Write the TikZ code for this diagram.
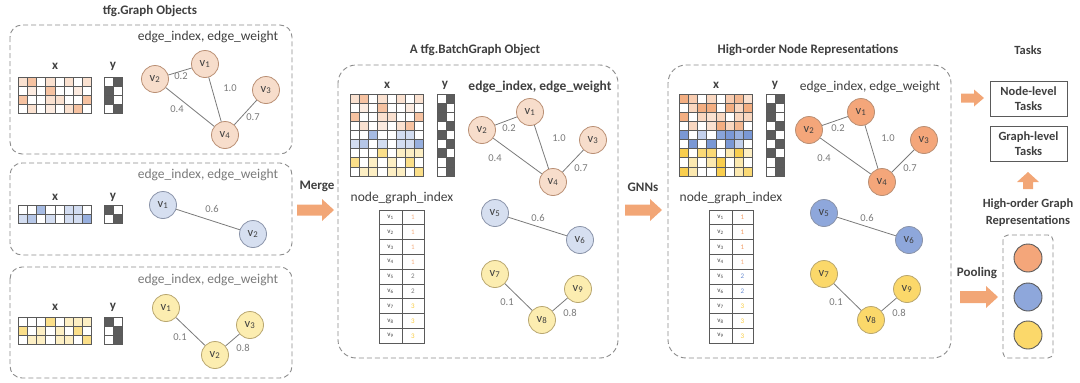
\documentclass[tikz,border=0pt]{standalone}
\usepackage{fontspec}
\setmainfont{Carlito}
\definecolor{txt}{HTML}{3F3F3F}
\definecolor{lgray}{HTML}{7A7A7A}
\definecolor{dashc}{HTML}{8C8C8C}
\definecolor{gridc}{HTML}{5A5A5A}
\definecolor{OR}{HTML}{F09A62}
\definecolor{BL}{HTML}{6B8DD0}
\definecolor{YE}{HTML}{F8C93A}
\definecolor{ygr}{HTML}{4A4A4A}
\definecolor{arr}{HTML}{F2A676}
\definecolor{lOR}{HTML}{F7DDCB}
\definecolor{lBL}{HTML}{D6DFF0}
\definecolor{lYE}{HTML}{FCEDB0}
\definecolor{dOR}{HTML}{F4A67A}
\definecolor{dBL}{HTML}{8EA7DB}
\definecolor{dYE}{HTML}{FBD86A}
\definecolor{bOR}{HTML}{B98F74}
\definecolor{bBL}{HTML}{8A93A8}
\definecolor{bYE}{HTML}{B8A670}
\newcommand\fsz[1]{\fontsize{#1}{#1}\selectfont}
\newcommand\mrow[5]{\foreach \v [count=\i from 0] in {#5}{\filldraw[draw=gridc,line width=0.6,fill=#4!\v0] ({#1+\i*#3},#2) rectangle ++(#3,9.1);}}
% horizontal block arrow: x1, x2, y, shaft half width, head half width, head length
\newcommand\harrow[6]{\fill[arr] (#1,{#3-#4}) -- ({#2-#6},{#3-#4}) -- ({#2-#6},{#3-#5}) -- (#2,#3) -- ({#2-#6},{#3+#5}) -- ({#2-#6},{#3+#4}) -- (#1,{#3+#4}) -- cycle;}
% vertical (upward) block arrow: x, y bottom, y top, shaft half, head half, head length
\newcommand\varrow[6]{\fill[arr] ({#1-#4},#2) -- ({#1-#4},{#3+#6}) -- ({#1-#5},{#3+#6}) -- (#1,#3) -- ({#1+#5},{#3+#6}) -- ({#1+#4},{#3+#6}) -- ({#1+#4},#2) -- cycle;}
\tikzset{
  dbox/.style={draw=dashc,line width=0.9,dash pattern=on 5pt off 3pt,rounded corners=#1},
  title/.style={font=\fsz{13}\bfseries,text=txt,inner sep=0pt},
  lab/.style={font=\fsz{13.5},text=txt,inner sep=0pt},
  llab/.style={font=\fsz{13.5},text=lgray,inner sep=0pt},
  mlab/.style={font=\fsz{13}\bfseries,text=txt,inner sep=0pt},
  elab/.style={font=\fsz{10.5},text=lgray,inner sep=0pt},
  gn/.style={circle,minimum size=27pt,inner sep=0pt,line width=0.8,font=\fsz{12.5},text=txt},
  gO/.style={gn,fill=lOR,draw=bOR},
  gB/.style={gn,fill=lBL,draw=bBL},
  gY/.style={gn,fill=lYE,draw=bYE},
  GO/.style={gn,fill=dOR,draw=bOR},
  GB/.style={gn,fill=dBL,draw=bBL},
  GY/.style={gn,fill=dYE,draw=bYE},
  edge/.style={draw=lgray,line width=0.8},
  tabtxt/.style={font=\fsz{7},text=txt,inner sep=0pt},
  taskbox/.style={draw=gridc,line width=0.9,minimum width=77pt,minimum height=35pt,align=center,font=\fontsize{12.5}{15}\selectfont\bfseries,text=txt,inner sep=0pt},
  pc/.style={circle,minimum size=28pt,inner sep=0pt,draw=gridc,line width=0.9}
}
\begin{document}
\begin{tikzpicture}[x=1pt,y=-1pt]
\useasboundingbox (0,0) rectangle (1080,383);
% ---------- left panels ----------
\node[title] (t1) at (150,11) {tfg.Graph Objects};
\draw[dbox=12] (10,25) rectangle (292,154);
\draw[dbox=12] (10,163) rectangle (292,255);
\draw[dbox=12] (10,267) rectangle (292,378);
% box 1
\node[lab] (e1) at (208,37) {edge\_index, edge\_weight};
\node[mlab] (x1) at (55,66) {x};
\node[mlab] (y1) at (113,66) {y};
\mrow{18}{77}{9.2}{OR}{3,6,0,3,0,3,0,3}
\mrow{18}{86.1}{9.2}{OR}{0,2,0,6,0,0,2,0}
\mrow{18}{95.2}{9.2}{OR}{6,0,0,3,3,0,0,6}
\mrow{18}{104.3}{9.2}{OR}{0,3,0,2,0,3,6,0}
\mrow{104}{77}{9}{ygr}{0,9}
\mrow{104}{86.1}{9}{ygr}{9,0}
\mrow{104}{95.2}{9}{ygr}{9,0}
\mrow{104}{104.3}{9}{ygr}{0,9}
\node[gO] (a1) at (205,64) {v\textsubscript{1}};
\node[gO] (a2) at (155,79) {v\textsubscript{2}};
\node[gO] (a3) at (266,90) {v\textsubscript{3}};
\node[gO] (a4) at (225,135) {v\textsubscript{4}};
\draw[edge] (a1) -- (a2);
\draw[edge] (a1) -- (a4);
\draw[edge] (a2) -- (a4);
\draw[edge] (a3) -- (a4);
\node[elab] (w12) at (181,76) {0.2};
\node[elab] (w14) at (230,88) {1.0};
\node[elab] (w24) at (177,109) {0.4};
\node[elab] (w34) at (253,117) {0.7};
% box 2
\node[llab] (e2) at (208,175) {edge\_index, edge\_weight};
\node[mlab] (x2) at (55,197) {x};
\node[mlab] (y2) at (113,197) {y};
\mrow{18}{205}{9.2}{BL}{0,0,6,0,0,3,3,0}
\mrow{18}{214.1}{9.2}{BL}{3,5,0,3,0,3,3,7}
\mrow{104}{205}{9}{ygr}{9,0}
\mrow{104}{214.1}{9}{ygr}{0,9}
\node[gB] (b1) at (163,205) {v\textsubscript{1}};
\node[gB] (b2) at (253,234) {v\textsubscript{2}};
\draw[edge] (b1) -- (b2);
\node[elab] (w56) at (212,209) {0.6};
% box 3
\node[llab] (e3) at (208,280) {edge\_index, edge\_weight};
\node[mlab] (x3) at (55,307) {x};
\node[mlab] (y3) at (113,307) {y};
\mrow{18}{317}{9.2}{YE}{0,0,0,6,0,3,3,3}
\mrow{18}{326.1}{9.2}{YE}{6,0,3,0,3,0,6,0}
\mrow{18}{335.2}{9.2}{YE}{0,3,3,0,3,3,0,6}
\mrow{104}{317}{9}{ygr}{9,0}
\mrow{104}{326.1}{9}{ygr}{0,9}
\mrow{104}{335.2}{9}{ygr}{0,9}
\node[gY] (c1) at (166,308) {v\textsubscript{1}};
\node[gY] (c2) at (215,355) {v\textsubscript{2}};
\node[gY] (c3) at (250,325) {v\textsubscript{3}};
\draw[edge] (c1) -- (c2);
\draw[edge] (c3) -- (c2);
\node[elab] (w78) at (180,337) {0.1};
\node[elab] (w89) at (243,348) {0.8};
% ---------- merge arrow ----------
\node[mlab] (merge) at (317,186) {Merge};
\harrow{297}{334}{210}{5.5}{11}{12}
% ---------- middle panel ----------
\node[title] (t2) at (475,50) {A tfg.BatchGraph Object};
\draw[dbox=18] (338,65) rectangle (618,358);
\node[mlab] (x4) at (387,85) {x};
\node[mlab] (y4) at (445,85) {y};
\node[lab,font=\fsz{13.5}\bfseries] (e4) at (540,87) {edge\_index, edge\_weight};
\mrow{350}{94}{9.2}{OR}{3,6,0,3,0,3,0,3}
\mrow{350}{103.1}{9.2}{OR}{0,2,0,6,0,0,2,0}
\mrow{350}{112.2}{9.2}{OR}{6,0,0,3,3,0,0,6}
\mrow{350}{121.3}{9.2}{OR}{0,3,0,2,0,3,6,0}
\mrow{350}{130.4}{9.2}{BL}{0,0,6,0,0,3,3,0}
\mrow{350}{139.5}{9.2}{BL}{3,5,0,3,0,3,3,7}
\mrow{350}{148.6}{9.2}{YE}{0,0,0,6,0,3,3,3}
\mrow{350}{157.7}{9.2}{YE}{6,0,3,0,3,0,6,0}
\mrow{350}{166.8}{9.2}{YE}{0,3,3,0,3,3,0,6}
\mrow{437}{94}{8.8}{ygr}{0,9}
\mrow{437}{103.1}{8.8}{ygr}{9,0}
\mrow{437}{112.2}{8.8}{ygr}{9,0}
\mrow{437}{121.3}{8.8}{ygr}{0,9}
\mrow{437}{130.4}{8.8}{ygr}{9,0}
\mrow{437}{139.5}{8.8}{ygr}{0,9}
\mrow{437}{148.6}{8.8}{ygr}{9,0}
\mrow{437}{157.7}{8.8}{ygr}{0,9}
\mrow{437}{166.8}{8.8}{ygr}{0,9}
\node[gO] (m1) at (530,112) {v\textsubscript{1}};
\node[gO] (m2) at (482,130) {v\textsubscript{2}};
\node[gO] (m3) at (593,140) {v\textsubscript{3}};
\node[gO] (m4) at (553,182) {v\textsubscript{4}};
\node[gB] (m5) at (495,213) {v\textsubscript{5}};
\node[gB] (m6) at (580,240) {v\textsubscript{6}};
\node[gY] (m7) at (495,274) {v\textsubscript{7}};
\node[gY] (m8) at (542,320) {v\textsubscript{8}};
\node[gY] (m9) at (578,289) {v\textsubscript{9}};
\draw[edge] (m1) -- (m2);
\draw[edge] (m1) -- (m4);
\draw[edge] (m2) -- (m4);
\draw[edge] (m3) -- (m4);
\draw[edge] (m5) -- (m6);
\draw[edge] (m7) -- (m8);
\draw[edge] (m9) -- (m8);
\node[elab] (mw12) at (509,128) {0.2};
\node[elab] (mw14) at (559,138) {1.0};
\node[elab] (mw24) at (495,158) {0.4};
\node[elab] (mw34) at (581,168) {0.7};
\node[elab] (mw56) at (538,218) {0.6};
\node[elab] (mw78) at (507,302) {0.1};
\node[elab] (mw89) at (570,313) {0.8};
\node[lab] (ng1) at (402,198) {node\_graph\_index};
\foreach \k/\n/\c in {1/1/OR!80,2/1/OR!80,3/1/OR!80,4/1/OR!80,5/2/lgray,6/2/lgray,7/3/YE,8/3/YE,9/3/YE}{
  \draw[gridc,line width=0.7] (379,{210+(\k-1)*14.8}) rectangle ++(23,14.8);
  \draw[gridc,line width=0.7] (402,{210+(\k-1)*14.8}) rectangle ++(22,14.8);
  \node[tabtxt] (mtv\k) at (390.5,{210+(\k-0.5)*14.8}) {v\textsubscript{\k}};
  \node[tabtxt,text=\c] (mtn\k) at (413,{210+(\k-0.5)*14.8}) {\n};
}
% ---------- GNN arrow ----------
\node[mlab] (gnn) at (643,187) {GNNs};
\harrow{625}{662}{210}{5.5}{11}{12}
% ---------- right panel ----------
\node[title] (t3) at (808,50) {High-order Node Representations};
\draw[dbox=18] (668,65) rectangle (951,358);
\node[mlab] (x5) at (716,85) {x};
\node[mlab] (y5) at (775,85) {y};
\node[lab] (e5) at (870,87) {edge\_index, edge\_weight};
\mrow{679}{94}{9.2}{OR}{8,5,0,4,0,5,7,3}
\mrow{679}{103.1}{9.2}{OR}{0,4,8,8,0,8,4,8}
\mrow{679}{112.2}{9.2}{OR}{8,0,4,3,4,0,4,4}
\mrow{679}{121.3}{9.2}{OR}{0,4,0,3,8,4,7,0}
\mrow{679}{130.4}{9.2}{BL}{9,0,4,0,8,9,7,9}
\mrow{679}{139.5}{9.2}{BL}{0,9,0,9,0,9,4,0}
\mrow{679}{148.6}{9.2}{YE}{9,0,7,7,0,4,9,3}
\mrow{679}{157.7}{9.2}{YE}{0,4,0,4,9,0,4,0}
\mrow{679}{166.8}{9.2}{YE}{9,4,0,0,9,0,4,7}
\mrow{766}{94}{9}{ygr}{0,9}
\mrow{766}{103.1}{9}{ygr}{9,0}
\mrow{766}{112.2}{9}{ygr}{9,0}
\mrow{766}{121.3}{9}{ygr}{0,9}
\mrow{766}{130.4}{9}{ygr}{9,0}
\mrow{766}{139.5}{9}{ygr}{0,9}
\mrow{766}{148.6}{9}{ygr}{9,0}
\mrow{766}{157.7}{9}{ygr}{0,9}
\mrow{766}{166.8}{9}{ygr}{0,9}
\node[GO] (r1) at (861,112) {v\textsubscript{1}};
\node[GO] (r2) at (809,130) {v\textsubscript{2}};
\node[GO] (r3) at (924,140) {v\textsubscript{3}};
\node[GO] (r4) at (882,182) {v\textsubscript{4}};
\node[GB] (r5) at (824,213) {v\textsubscript{5}};
\node[GB] (r6) at (909,240) {v\textsubscript{6}};
\node[GY] (r7) at (824,274) {v\textsubscript{7}};
\node[GY] (r8) at (871,320) {v\textsubscript{8}};
\node[GY] (r9) at (907,289) {v\textsubscript{9}};
\draw[edge] (r1) -- (r2);
\draw[edge] (r1) -- (r4);
\draw[edge] (r2) -- (r4);
\draw[edge] (r3) -- (r4);
\draw[edge] (r5) -- (r6);
\draw[edge] (r7) -- (r8);
\draw[edge] (r9) -- (r8);
\node[elab] (rw12) at (838,128) {0.2};
\node[elab] (rw14) at (888,138) {1.0};
\node[elab] (rw24) at (824,158) {0.4};
\node[elab] (rw34) at (910,168) {0.7};
\node[elab] (rw56) at (867,218) {0.6};
\node[elab] (rw78) at (836,302) {0.1};
\node[elab] (rw89) at (899,313) {0.8};
\node[lab] (ng2) at (731,198) {node\_graph\_index};
\foreach \k/\n/\c in {1/1/OR,2/1/OR,3/1/OR,4/1/OR!80,5/2/BL,6/2/BL,7/3/YE,8/3/YE,9/3/YE}{
  \draw[gridc,line width=0.7] (709,{210+(\k-1)*14.8}) rectangle ++(23,14.8);
  \draw[gridc,line width=0.7] (732,{210+(\k-1)*14.8}) rectangle ++(21,14.8);
  \node[tabtxt] (rtv\k) at (720.5,{210+(\k-0.5)*14.8}) {v\textsubscript{\k}};
  \node[tabtxt,text=\c] (rtn\k) at (742.5,{210+(\k-0.5)*14.8}) {\n};
}
% ---------- tasks ----------
\node[title,font=\fsz{12.5}\bfseries] (t4) at (1028,50) {Tasks};
\node[taskbox] (nlt) at (1028.5,98.5) {Node-level\\Tasks};
\node[taskbox] (glt) at (1028.5,144) {Graph-level\\Tasks};
\harrow{961}{984}{98}{4.5}{8.5}{10}
\varrow{1028}{189}{172}{5}{11}{10}
\node[title,align=center,font=\fontsize{12.5}{17}\selectfont\bfseries] (hog) at (1028,212.5) {High-order Graph\\Representations};
\draw[dbox=5] (1003,235) rectangle (1053,358);
\node[pc,fill=dOR] (p1) at (1028,258) {};
\node[pc,fill=dBL] (p2) at (1028,297) {};
\node[pc,fill=dYE] (p3) at (1028,335) {};
\node[mlab] (pool) at (977,273) {Pooling};
\harrow{960}{998}{297}{6}{11}{12}
\end{tikzpicture}
\end{document}
